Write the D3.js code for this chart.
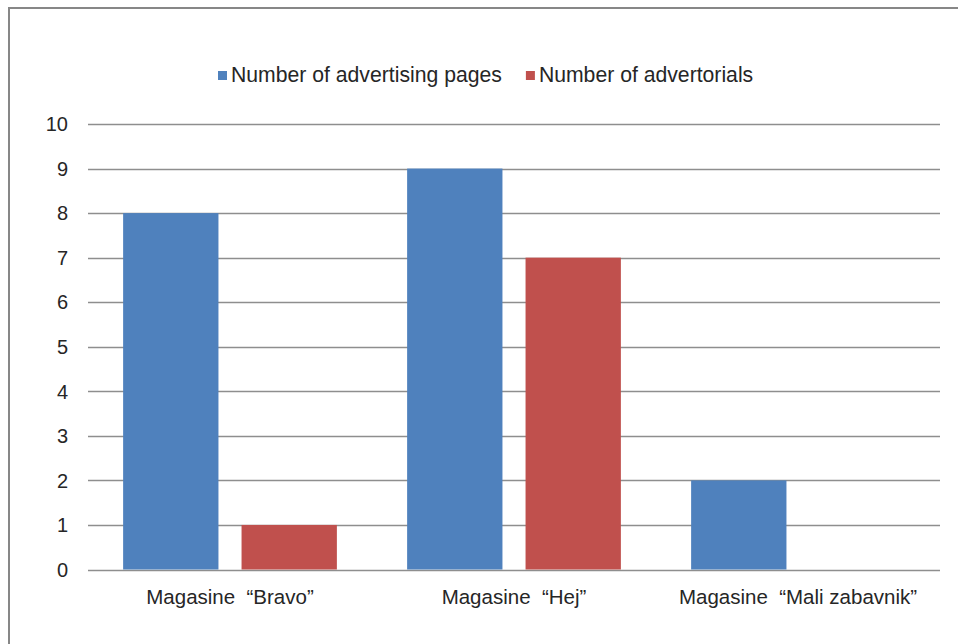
<!DOCTYPE html>
<html>
<head>
<meta charset="utf-8">
<script src="https://cdn.jsdelivr.net/npm/d3@7/dist/d3.min.js"></script>
<style>
  html, body { margin: 0; padding: 0; background: #fff; }
  svg text { font-family: "Liberation Sans", Arial, sans-serif; fill: #262626; }
</style>
</head>
<body>
<svg id="chart" width="958" height="644"></svg>
<script>
const categories = ["Magasine  \u201cBravo\u201d", "Magasine  \u201cHej\u201d", "Magasine  \u201cMali zabavnik\u201d"];
const seriesNames = ["Number of advertising pages", "Number of advertorials"];
const advertisingPages = [8, 9, 2];
const advertorials = [1, 7, 0];
const yTicks = [0, 1, 2, 3, 4, 5, 6, 7, 8, 9, 10];
const colors = ["#4F81BD", "#C0504D"];

const seriesValues = [advertisingPages, advertorials];
const svg = d3.select("#chart");

// frame
svg.append("path")
  .attr("d", "M9,644 L9,8 L958,8")
  .attr("fill", "none").attr("stroke", "#878787").attr("stroke-width", 2);

const x0 = d3.scaleBand().domain(categories).range([88, 940]).paddingInner(0).paddingOuter(0);
const x1 = d3.scaleBand().domain(seriesNames).range([0, x0.bandwidth()])
  .paddingInner(0.195).paddingOuter(0.2966);
const y = d3.scaleLinear().domain([0, 10]).range([569.5, 124]);

// gridlines
svg.append("g").selectAll("line").data(yTicks).join("line")
  .attr("x1", 88).attr("x2", 940)
  .attr("y1", d => Math.round(y(d)) + 0.5).attr("y2", d => Math.round(y(d)) + 0.5)
  .attr("stroke", "#8e8e8e").attr("stroke-width", 1.3);

// y tick labels
svg.append("g").selectAll("text").data(yTicks).join("text")
  .attr("x", 68).attr("y", d => y(d))
  .attr("dy", "0.36em")
  .attr("text-anchor", "end")
  .attr("font-size", "20px")
  .text(d => d);

// bars
const groups = svg.append("g").selectAll("g").data(categories).join("g")
  .attr("transform", c => `translate(${x0(c)},0)`);
groups.selectAll("rect")
  .data((c, i) => seriesNames.map((s, j) => ({ s, v: seriesValues[j][i], j })))
  .join("rect")
  .attr("x", d => x1(d.s))
  .attr("width", x1.bandwidth())
  .attr("y", d => y(d.v))
  .attr("height", d => y(0) - y(d.v))
  .attr("fill", d => colors[d.j]);

// category labels
svg.append("g").selectAll("text").data(categories).join("text")
  .attr("x", c => x0(c) + x0.bandwidth() / 2)
  .attr("y", 604)
  .attr("text-anchor", "middle")
  .attr("font-size", "20.5px")
  .style("white-space", "pre")
  .text(c => c);

// legend
const legend = svg.append("g");
let lx = 218;
seriesNames.forEach((s, j) => {
  legend.append("rect").attr("x", lx).attr("y", 71).attr("width", 9).attr("height", 9).attr("fill", colors[j]);
  const t = legend.append("text").attr("x", lx + 13).attr("y", 82).attr("font-size", "21.2px").text(s);
  lx = lx + 13 + t.node().getComputedTextLength() + 24;
});
</script>
</body>
</html>
